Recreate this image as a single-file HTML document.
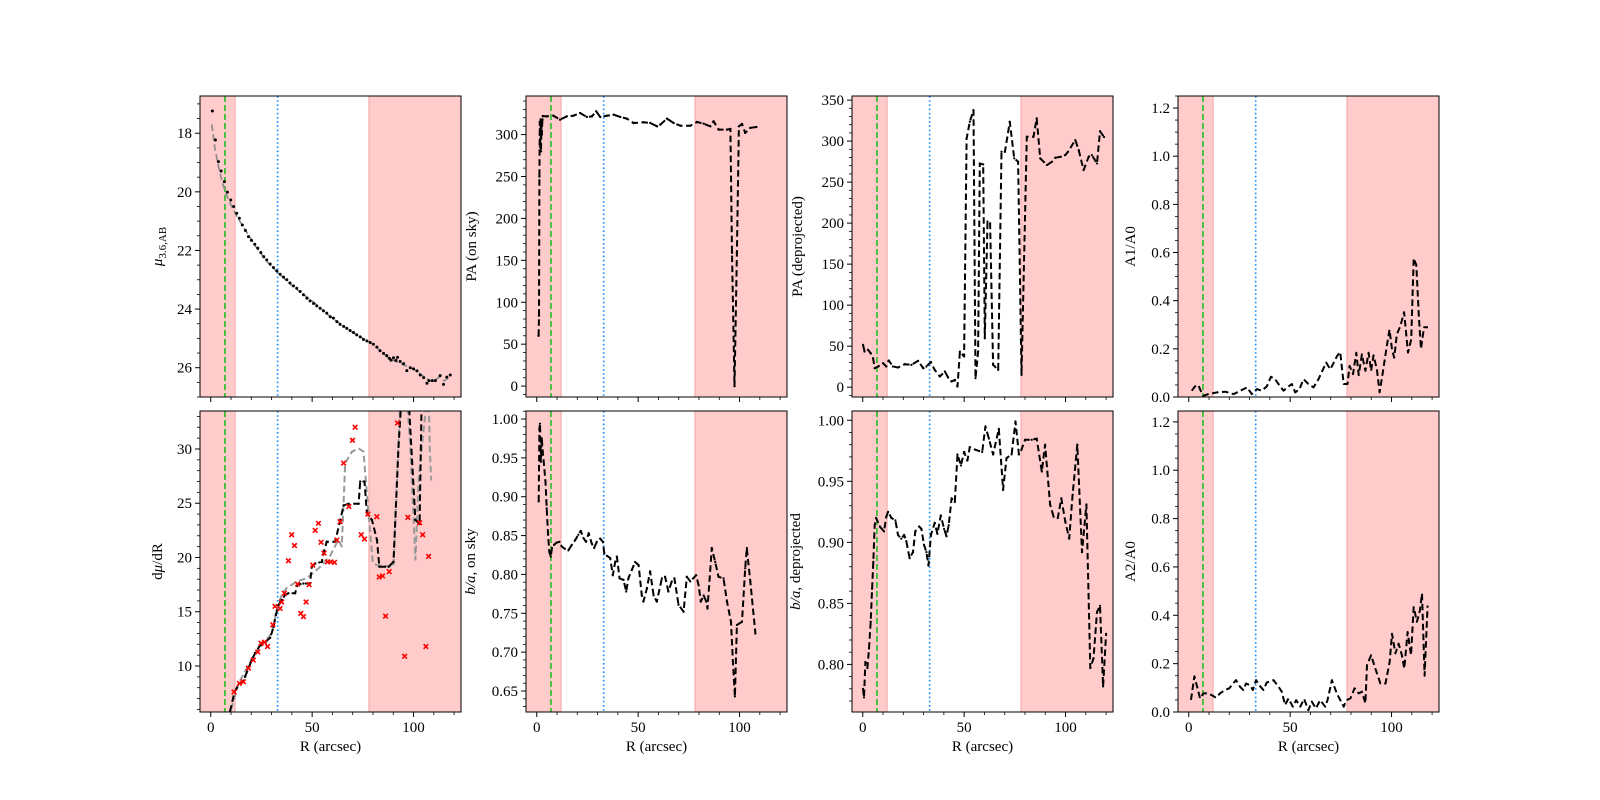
<!DOCTYPE html>
<html><head><meta charset="utf-8"><style>
html,body{margin:0;padding:0;background:#fff;}
svg{display:block;font-family:"Liberation Serif","DejaVu Serif",serif;}
</style></head><body>
<svg id="fig" width="1600" height="800" viewBox="0 0 1600 800" xmlns="http://www.w3.org/2000/svg"></svg>
<script>
// ---- data ----
const muR=[0.8,2.3,3.77,5.1,6.7,8.2,9.86,11.3,12.8,14.1,15.6,17.1,18.6,20.05,21.7,23.2,24.7,26.1,27.6,29.3,30.9,32.6,34.2,35.9,37.5,39.1,40.8,42.4,44.1,45.7,47.4,49.0,50.7,52.3,53.9,55.6,57.2,58.9,60.5,62.2,63.8,65.5,67.1,68.7,70.4,72.0,73.7,75.3,77.0,78.6,80.2,81.9,83.5,85.2,86.8,88.1,88.9,90.1,91.3,92.1,93.4,95.1,96.7,98.4,100.0,101.7,103.3,105.0,106.6,107.6,109.3,110.8,113.1,114.8,116.4,118.1];
const muVal=[17.24,18.23,18.97,19.29,19.65,20.01,20.28,20.5,20.73,20.9,21.13,21.32,21.53,21.65,21.79,21.92,22.07,22.21,22.32,22.46,22.58,22.7,22.81,22.91,23.0,23.11,23.21,23.29,23.4,23.51,23.63,23.72,23.81,23.89,23.97,24.06,24.14,24.26,24.31,24.43,24.52,24.59,24.66,24.73,24.8,24.88,24.95,25.04,25.09,25.14,25.2,25.3,25.42,25.51,25.59,25.68,25.74,25.66,25.75,25.65,25.79,25.86,26.1,26.0,26.04,26.11,26.25,26.34,26.53,26.44,26.44,26.44,26.27,26.57,26.32,26.25];
const muModelR=[0.5,2,4,6,8,10,13,17,22,28,33,40,50,60,70,80,85,88,90,95,100,105,108,110,113,115,118];
const muModelVal=[17.7,18.5,19.2,19.75,20.15,20.45,20.85,21.3,21.85,22.4,22.75,23.2,23.72,24.32,24.8,25.2,25.5,25.7,25.75,25.9,26.05,26.3,26.45,26.45,26.3,26.45,26.3];

const dmuR=[9.5,11.7,14.1,16.1,16.9,18.6,20.2,21.9,24.3,26.8,29.3,31.0,32.1,33.4,35.0,36.7,38.3,41.6,42.8,45.7,49.0,49.8,51.5,54.8,55.6,57.2,61.3,63.5,65.5,67.9,72.9,73.7,75.8,77.0,79.5,82.0,83.1,87.7,90.1,92.6,94.3,97.6,100.9,103.0,104.1];
const dmuVal=[5.8,7.6,8.4,8.55,9.0,9.8,10.55,11.2,11.9,12.2,12.6,13.6,14.7,15.6,16.1,16.55,16.7,16.7,17.5,17.6,17.6,19.15,19.45,19.6,20.4,21.45,21.45,23.15,24.8,24.95,24.95,27.0,27.0,24.1,23.45,21.6,19.15,19.15,19.6,30.2,35.5,34.5,23.45,23.1,36];
const dmuModelR=[10,14,18,22,26,30,32.6,35,37.5,40,42.5,47.4,50,54,59,62,63,64.6,66.3,69.6,72.9,75.3,77.8,79.9,81.9,90.1,93.4,96.8,98.4,100.9,102.5,104.5,106.6,107.5,108.0,108.7];
const dmuModelVal=[6,8.5,9.9,11.2,12.1,13.0,15.2,16.6,17.2,17.5,17.8,18.1,18.5,19.15,20.2,21.3,21.6,21.0,28.7,29.75,30.05,29.75,24.1,19.5,19.3,19.15,34.5,34.5,30.2,19.8,27.1,31,34.5,34.5,30,27.1];
const dmuPtsR=[11.5,14.1,16.1,18.6,21.0,23.2,24.8,26.5,28.0,30.6,31.7,34.2,35.0,36.3,38.3,39.9,41.3,42.8,44.4,45.7,47.0,48.5,50.3,51.5,53.1,54.4,55.9,57.6,59.2,61.0,62.2,63.8,65.5,68.1,69.9,71.2,74.2,75.8,77.5,81.9,83.1,84.7,86.2,88.0,92.1,95.6,97.2,103,104.5,106.1,107.4];
const dmuPtsVal=[7.6,8.4,8.55,9.8,10.55,11.3,12.1,12.2,11.8,13.8,15.5,15.3,15.9,16.7,19.7,22.1,21.1,17.55,14.85,14.55,15.9,17.5,19.3,22.5,23.15,21.4,20.4,19.6,19.6,19.55,21.6,23.3,28.7,24.7,30.8,32.0,22.1,21.7,24.0,23.75,18.2,18.3,14.6,18.7,32.4,10.9,23.7,23.2,22.1,11.8,20.1];

const paSkyR=[0.9,1.1,1.3,1.5,1.7,1.9,2.1,2.3,2.5,2.8,3.0,4.9,8.2,11.5,14.8,18.1,21.4,24.7,27.2,29.3,31.3,34.6,37.9,41.2,44.4,47.7,52.7,56.0,59.3,60.9,64.2,67.5,70.8,75.7,79.0,82.3,85.6,87.2,89.7,93.8,95.5,96.3,97.5,98.7,99.7,101.2,102.8,105.3,108.3];
const paSkyVal=[60,84,250,315,285,318,280,310,300,318,322,321.7,322.5,317.8,321.7,322.5,325.7,321,321.7,327.7,321,322.5,323.7,321,319,313.8,314.6,313.8,309.9,311.8,319,313.8,310.6,310.6,315,313,309.9,315.8,305.9,305.9,306.7,159,0,159,309.9,312.6,302,307.9,309];

const baSkyR=[0.97,1.3,1.6,2.0,2.5,2.95,3.6,4.3,4.9,5.6,6.2,6.9,7.5,8.5,9.8,11.2,12.3,13.9,15.6,17.3,18.9,20.5,21.7,23.0,24.3,25.6,27.1,28.3,29.6,31.3,32.6,33.3,34.6,36.2,37.5,38.7,39.5,40.8,42.8,44.1,45.2,46.9,48.5,50.2,51.8,52.6,54.3,55.9,57.6,59.2,61.7,63.3,64.9,66.6,67.9,69.9,72.4,74.0,75.7,78.6,79.8,80.9,82.3,83.6,84.2,86.3,88.0,89.6,92.1,93.8,95.8,96.7,97.7,98.7,101.2,102.8,103.6,105.3,107.8];
const baSkyVal=[0.894,0.988,0.994,0.945,0.975,0.958,0.941,0.919,0.885,0.851,0.829,0.823,0.834,0.838,0.841,0.842,0.836,0.833,0.831,0.838,0.844,0.851,0.856,0.847,0.842,0.853,0.840,0.834,0.842,0.846,0.842,0.827,0.824,0.821,0.799,0.816,0.823,0.795,0.793,0.778,0.795,0.806,0.816,0.812,0.773,0.765,0.782,0.804,0.773,0.765,0.795,0.797,0.778,0.791,0.795,0.761,0.752,0.797,0.791,0.799,0.786,0.765,0.773,0.765,0.756,0.834,0.816,0.797,0.795,0.765,0.739,0.688,0.643,0.735,0.739,0.808,0.834,0.791,0.724];

const paDepR=[0.14,0.9,2.6,3.9,5.1,5.9,7.6,10.0,11.6,12.8,14.9,17.4,20.7,24.0,27.3,29.8,31.4,33.6,35.5,38.0,40.5,42.1,43.8,45.4,46.7,47.9,50.0,51.2,52.8,54.6,55.6,56.9,57.7,59.4,60.2,61.5,62.8,64.3,66.8,68.4,70.1,72.5,74.7,76.6,78.3,80.9,84.2,85.8,87.5,90.8,93.3,94.9,97.7,99.9,101.2,104.8,106.5,108.9,111.4,113.0,115.5,117,119];
const paDepVal=[51.6,43.4,45.5,41.4,35.3,23.1,25.2,29.2,25.2,32.5,25.2,24.0,28.0,27.2,32.1,23.1,25.2,30.5,21.1,13.0,19.1,11.8,6.9,8.9,0.8,43.4,37.4,303,323.6,337.8,11,43.4,272.8,271.6,59.7,201.8,199.8,27.2,21.1,287,287,323.6,279,274.9,15,305.3,305.3,327.7,279,270.8,274.9,279.7,281,283,287,301.3,289,264.7,281,283,272.8,312,305];

const baDepR=[0.14,0.6,1.3,2.3,3.1,3.9,4.6,5.2,5.9,6.6,8.4,10.5,11.6,12.5,14.1,16.1,17.4,19.0,20.4,21.5,23.1,24.8,25.9,27.8,28.9,30.2,31.4,32.4,33.6,35.5,36.8,38.5,40.1,41.3,42.4,43.8,45.4,46.7,48.4,50.0,51.6,52.8,55.3,58.9,60.5,62.2,64.3,67.1,69.2,70.9,73.4,75.3,77.0,78.3,80.0,83.3,85.8,88.3,89.9,92.4,94.1,96.2,97.9,99.9,101.8,103.5,105.8,108.1,110.3,112.2,113.8,115.5,117,118.5,120];
const baDepVal=[0.780,0.773,0.802,0.797,0.813,0.835,0.862,0.884,0.914,0.920,0.913,0.909,0.921,0.925,0.920,0.918,0.906,0.903,0.906,0.901,0.887,0.892,0.909,0.913,0.911,0.898,0.892,0.881,0.906,0.916,0.907,0.922,0.911,0.905,0.914,0.936,0.933,0.972,0.963,0.974,0.967,0.978,0.976,0.974,0.995,0.985,0.972,0.993,0.943,0.969,0.972,0.999,0.972,0.976,0.984,0.984,0.985,0.958,0.980,0.931,0.921,0.920,0.936,0.917,0.903,0.939,0.980,0.892,0.931,0.797,0.805,0.843,0.848,0.782,0.825];

const a1R=[1.5,3.1,4.7,5.9,7.2,9.7,14.0,18.0,22.1,25.4,28.7,31.1,33.6,36.0,38.5,40.5,42.6,45.1,46.7,49.2,50.8,52.5,54.6,56.6,59.0,61.5,64.0,65.6,67.8,69.8,71.1,73.1,74.7,76.4,78.3,79.3,81.0,82.6,83.8,85.4,87.1,88.7,89.9,91.1,92.8,94.1,95.7,97.4,99.0,100.2,101.3,102.6,104.3,106.2,108.1,109.7,110.9,112.2,113.5,114.5,116,118];
const a1Val=[0.026,0.044,0.05,0.026,0.005,0.012,0.019,0.022,0.012,0.026,0.04,0.012,0.033,0.026,0.044,0.084,0.074,0.044,0.026,0.044,0.054,0.019,0.033,0.074,0.054,0.04,0.074,0.104,0.143,0.115,0.136,0.17,0.187,0.054,0.054,0.129,0.095,0.184,0.091,0.177,0.109,0.184,0.109,0.173,0.115,0.019,0.102,0.198,0.28,0.198,0.163,0.26,0.294,0.352,0.184,0.239,0.576,0.548,0.33,0.2,0.29,0.29];

const a2R=[1.1,2.8,4.3,5.6,7.2,8.9,11.3,13.4,15.4,17.9,20.0,21.2,23.3,25.3,26.9,28.3,30.2,31.6,33.2,34.8,36.8,38.5,41.8,44.3,45.9,47.5,49.2,51.3,53.0,55.0,56.9,59.0,60.7,62.7,64.8,67.3,68.4,70.6,73.0,76.4,77.7,79.7,81.8,83.8,85.4,87.1,87.9,89.9,92.0,94.5,97.0,99.1,100.2,101.9,103.5,105.1,106.3,107.9,109.6,110.9,112.5,114,115,116.3,117.8];
const a2Val=[0.05,0.148,0.098,0.056,0.077,0.077,0.07,0.059,0.077,0.091,0.098,0.111,0.132,0.104,0.091,0.118,0.111,0.091,0.132,0.111,0.091,0.122,0.132,0.104,0.084,0.029,0.056,0.022,0.049,0.022,0.054,0.008,0.043,0.015,0.049,0.022,0.049,0.132,0.077,0.022,0.049,0.056,0.098,0.077,0.084,0.036,0.194,0.235,0.18,0.118,0.118,0.208,0.324,0.242,0.283,0.235,0.18,0.331,0.235,0.434,0.373,0.42,0.49,0.15,0.44];

// reference radii
const greenR=[7.0];
const blueR=[33.0];
const shadeInner=[-10,12.0];
const shadeOuter=[78.0,200];

const xTicks=[0,50,100];
const X0=-5.3, X1=123.4;

// ---- rendering ----
const NS='http://www.w3.org/2000/svg';
const svg=document.getElementById('fig');
function mk(tag,parent){const e=document.createElementNS(NS,tag);(parent||svg).appendChild(e);return e;}

const panels=[
 {c:0,r:0,name:'surface-brightness',y0:16.73,y1:27.0,inv:true,major:[18,20,22,24,26],minor:0.5,dec:0,label:'mu'},
 {c:1,r:0,name:'pa-on-sky',y0:-13,y1:346,major:[0,50,100,150,200,250,300],minor:10,dec:0,label:'PA (on sky)',lx:-50},
 {c:2,r:0,name:'pa-deprojected',y0:-12,y1:355,major:[0,50,100,150,200,250,300,350],minor:10,dec:0,label:'PA (deprojected)',lx:-50},
 {c:3,r:0,name:'a1-a0',y0:0,y1:1.25,major:[0,0.2,0.4,0.6,0.8,1.0,1.2],minor:0.05,dec:1,label:'A1/A0',lx:-43},
 {c:0,r:1,name:'dmu-dr',y0:5.76,y1:33.5,major:[10,15,20,25,30],minor:1,dec:0,label:'dmu'},
 {c:1,r:1,name:'ba-on-sky',y0:0.623,y1:1.0103,major:[0.65,0.70,0.75,0.80,0.85,0.90,0.95,1.00],minor:0.01,dec:2,label:'ba1',lx:-51},
 {c:2,r:1,name:'ba-deprojected',y0:0.761,y1:1.0076,major:[0.80,0.85,0.90,0.95,1.00],minor:0.01,dec:2,label:'ba2',lx:-52},
 {c:3,r:1,name:'a2-a0',y0:0,y1:1.245,major:[0,0.2,0.4,0.6,0.8,1.0,1.2],minor:0.05,dec:1,label:'A2/A0',lx:-43}
];

panels.forEach((p,i)=>{
 p.L=200+326*p.c; p.W=261; p.T=p.r?411:96; p.H=301;
 p.sx=v=>p.L+(v-X0)/(X1-X0)*p.W;
 p.sy=v=>p.inv ? p.T+(v-p.y0)/(p.y1-p.y0)*p.H : p.T+p.H-(v-p.y0)/(p.y1-p.y0)*p.H;
 const g=mk('g');
 
 
 p.g=g;
 const cp=mk('clipPath',g); cp.setAttribute('id','clip'+i);
 const cr=mk('rect',cp); cr.setAttribute('x',p.L);cr.setAttribute('y',p.T);cr.setAttribute('width',p.W);cr.setAttribute('height',p.H);
 const pg=mk('g',g); pg.setAttribute('clip-path','url(#clip'+i+')');
 p.pg=pg;
 [shadeInner,shadeOuter].forEach((s,k)=>{
  const r=mk('rect',pg);
  
  
  const a=Math.max(p.sx(s[0]),p.L-2), b=Math.min(p.sx(s[1]),p.L+p.W+2);
  r.setAttribute('x',a);r.setAttribute('y',p.T);r.setAttribute('width',b-a);r.setAttribute('height',p.H);
  r.setAttribute('fill','#ffcbcb');r.setAttribute('stroke','#f5a5a5');r.setAttribute('stroke-width','1');
 });
 const gl=mk('line',pg);
 
 
 gl.setAttribute('x1',p.sx(greenR[0]));gl.setAttribute('x2',p.sx(greenR[0]));gl.setAttribute('y1',p.T);gl.setAttribute('y2',p.T+p.H);
 gl.setAttribute('stroke','#2fc02f');gl.setAttribute('stroke-width','1.7');gl.setAttribute('stroke-dasharray','6,3');
 const bl=mk('line',pg);
 
 
 bl.setAttribute('x1',p.sx(blueR[0]));bl.setAttribute('x2',p.sx(blueR[0]));bl.setAttribute('y1',p.T);bl.setAttribute('y2',p.T+p.H);
 bl.setAttribute('stroke','#1e8fff');bl.setAttribute('stroke-width','1.7');bl.setAttribute('stroke-dasharray','1.6,2.6');
});

function path(p,xs,ys,color,w,dash,name){
 let d='';
 xs.forEach((x,i)=>{d+=(i?'L':'M')+p.sx(x).toFixed(1)+','+p.sy(ys[i]).toFixed(1);});
 const e=mk('path',p.pg);
 
 
 e.setAttribute('d',d);e.setAttribute('fill','none');e.setAttribute('stroke',color);e.setAttribute('stroke-width',w);
 if(dash)e.setAttribute('stroke-dasharray',dash);
 e.setAttribute('stroke-linejoin','round');
}
function dots(p,xs,ys,r,name){
 xs.forEach((x,i)=>{
  const c=mk('circle',p.pg);
  
  
  c.setAttribute('cx',p.sx(x));c.setAttribute('cy',p.sy(ys[i]));c.setAttribute('r',r);c.setAttribute('fill','#000');
 });
}
function crosses(p,xs,ys,name){
 xs.forEach((x,i)=>{
  const cx=p.sx(x),cy=p.sy(ys[i]),s=2.3;
  const e=mk('path',p.pg);
  
  
  e.setAttribute('d',`M${cx-s},${cy-s}L${cx+s},${cy+s}M${cx-s},${cy+s}L${cx+s},${cy-s}`);
  e.setAttribute('stroke','#ff0000');e.setAttribute('stroke-width','1.6');
 });
}

const DASH='6.5,3.5';
path(panels[0],muModelR,muModelVal,'#8c8c8c',1.7,DASH,'mu-model-line');
dots(panels[0],muR,muVal,1.5,'mu-point');
path(panels[4],dmuModelR,dmuModelVal,'#999999',2,DASH,'dmu-model-line');
path(panels[4],dmuR,dmuVal,'#000',2,DASH,'dmu-line');
dots(panels[4],dmuR,dmuVal,1.2,'dmu-point');
crosses(panels[4],dmuPtsR,dmuPtsVal,'dmu-red-marker');
path(panels[1],paSkyR,paSkyVal,'#000',2,DASH,'pa-sky-line');
dots(panels[1],paSkyR,paSkyVal,1.2,'pa-sky-point');
path(panels[5],baSkyR,baSkyVal,'#000',2,DASH,'ba-sky-line');
dots(panels[5],baSkyR,baSkyVal,1.1,'ba-sky-point');
path(panels[2],paDepR,paDepVal,'#000',2,DASH,'pa-deproj-line');
dots(panels[2],paDepR,paDepVal,1.1,'pa-deproj-point');
path(panels[6],baDepR,baDepVal,'#000',2,DASH,'ba-deproj-line');
dots(panels[6],baDepR,baDepVal,1.1,'ba-deproj-point');
path(panels[3],a1R,a1Val,'#000',2,DASH,'a1-line');
path(panels[7],a2R,a2Val,'#000',2,DASH,'a2-line');

panels.forEach(p=>{
 const g=p.g;
 const fr=mk('rect',g);
 
 
 fr.setAttribute('x',p.L);fr.setAttribute('y',p.T);fr.setAttribute('width',p.W);fr.setAttribute('height',p.H);
 fr.setAttribute('fill','none');fr.setAttribute('stroke','#000');fr.setAttribute('stroke-width','1');
 const B=p.T+p.H;
 for(let v=0;v<=120;v+=10){
  const x=p.sx(v); const maj=v%50===0;
  const t=mk('line',g);
  
  
  t.setAttribute('x1',x);t.setAttribute('x2',x);t.setAttribute('y1',B);t.setAttribute('y2',B+(maj?5:3));
  t.setAttribute('stroke','#000');t.setAttribute('stroke-width',maj?1:0.8);
 }
 if(p.r===1){
  xTicks.forEach(v=>{
   const t=mk('text',g);
   
   
   t.setAttribute('x',p.sx(v));t.setAttribute('y',B+20);t.setAttribute('text-anchor','middle');t.setAttribute('font-size','15');
   t.textContent=String(v);
  });
  const xl=mk('text',g);
  
  
  xl.setAttribute('x',p.L+p.W/2);xl.setAttribute('y',B+39);xl.setAttribute('text-anchor','middle');xl.setAttribute('font-size','15');
  xl.textContent='R (arcsec)';
 }
 const lo=Math.min(p.y0,p.y1),hi=Math.max(p.y0,p.y1);
 for(let k=Math.ceil(lo/p.minor-1e-6);k*p.minor<=hi+1e-9;k++){
  const v=k*p.minor;
  const y=p.sy(v);
  const maj=p.major.some(m=>Math.abs(m-v)<1e-6);
  const t=mk('line',g);
  
  
  t.setAttribute('x1',p.L);t.setAttribute('x2',p.L-(maj?5:3));t.setAttribute('y1',y);t.setAttribute('y2',y);
  t.setAttribute('stroke','#000');t.setAttribute('stroke-width',maj?1:0.8);
 }
 p.major.forEach(v=>{
  const t=mk('text',g);
  
  
  t.setAttribute('x',p.L-8);t.setAttribute('y',p.sy(v)+5);t.setAttribute('text-anchor','end');t.setAttribute('font-size','15');
  t.textContent=v.toFixed(p.dec);
 });
 const yl=mk('text',g);
 
 
 const lx=p.L+(p.lx||-38), ly=p.T+p.H/2;
 yl.setAttribute('transform',`translate(${lx},${ly}) rotate(-90)`);
 yl.setAttribute('text-anchor','middle');yl.setAttribute('font-size','15');
 if(p.label==='mu'){
  const a=mk('tspan',yl);a.setAttribute('font-style','italic');a.textContent='μ';
  const b=mk('tspan',yl);b.setAttribute('font-size','11');b.setAttribute('dy','4');b.textContent='3.6,AB';
 } else if(p.label==='dmu'){
  const a=mk('tspan',yl);a.textContent='d';
  const b=mk('tspan',yl);b.setAttribute('font-style','italic');b.textContent='μ';
  const c=mk('tspan',yl);c.textContent='/dR';
 } else if(p.label==='ba1'||p.label==='ba2'){
  const a=mk('tspan',yl);a.setAttribute('font-style','italic');a.textContent='b/a';
  const b=mk('tspan',yl);b.textContent=p.label==='ba1'?', on sky':', deprojected';
 } else yl.textContent=p.label;
});
</script>
</body></html>
